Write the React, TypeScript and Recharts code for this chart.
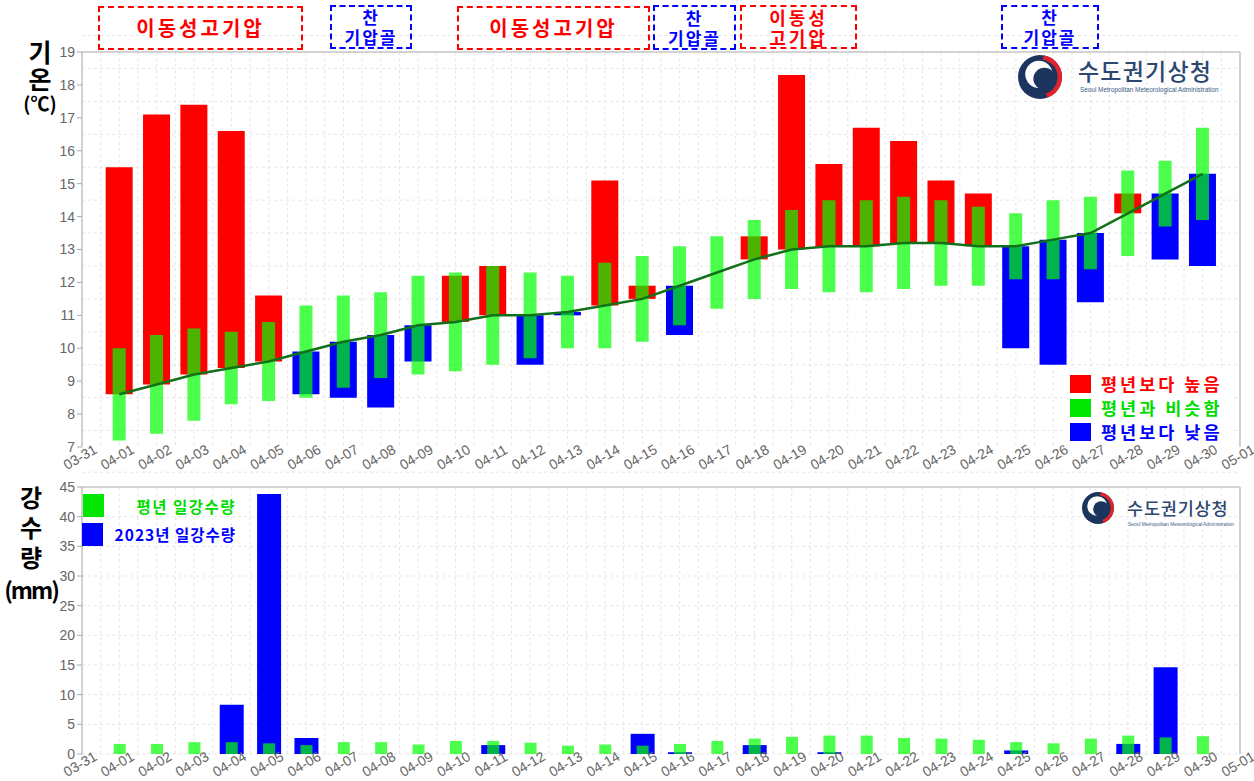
import React from 'react';
import { ComposedChart, Bar, Line, XAxis, YAxis, CartesianGrid, Cell, ReferenceLine } from 'recharts';

// x축 눈금 (0 = 03-31, 31 = 05-01)
const DAY_LABELS = [
  '03-31', '04-01', '04-02', '04-03', '04-04', '04-05', '04-06', '04-07', '04-08', '04-09', '04-10',
  '04-11', '04-12', '04-13', '04-14', '04-15', '04-16', '04-17', '04-18', '04-19', '04-20',
  '04-21', '04-22', '04-23', '04-24', '04-25', '04-26', '04-27', '04-28', '04-29', '04-30', '05-01',
];
const DAYS = [1, 2, 3, 4, 5, 6, 7, 8, 9, 10, 11, 12, 13, 14, 15, 16, 17, 18, 19, 20, 21, 22, 23, 24, 25, 26, 27, 28, 29, 30];

// 기온 (℃)
const NORMAL_MEAN = [8.6, 8.9, 9.2, 9.4, 9.6, 9.9, 10.2, 10.4, 10.7, 10.8, 11.0, 11.0, 11.1, 11.3, 11.5, 11.9, 12.3, 12.7, 13.0, 13.1, 13.1, 13.2, 13.2, 13.1, 13.1, 13.3, 13.5, 14.1, 14.7, 15.3];
const TEMP_2023 = [15.5, 17.1, 17.4, 16.6, 11.6, 8.6, 8.5, 8.2, 9.6, 12.2, 12.5, 9.5, 11.0, 15.1, 11.9, 10.4, 12.3, 13.4, 18.3, 15.6, 16.7, 16.3, 15.1, 14.7, 10.0, 9.5, 11.4, 14.7, 12.7, 12.5];
const NORMAL_LOW = [7.2, 7.4, 7.8, 8.3, 8.4, 8.5, 8.8, 9.1, 9.2, 9.3, 9.5, 9.7, 10.0, 10.0, 10.2, 10.7, 11.2, 11.5, 11.8, 11.7, 11.7, 11.8, 11.9, 11.9, 12.1, 12.1, 12.4, 12.8, 13.7, 13.9];
const NORMAL_HIGH = [10.0, 10.4, 10.6, 10.5, 10.8, 11.3, 11.6, 11.7, 12.2, 12.3, 12.5, 12.3, 12.2, 12.6, 12.8, 13.1, 13.4, 13.9, 14.2, 14.5, 14.5, 14.6, 14.5, 14.3, 14.1, 14.5, 14.6, 15.4, 15.7, 16.7];

// 강수량 (mm)
const RAIN_NORMAL = [1.7, 1.7, 2.0, 2.0, 1.8, 1.5, 2.0, 2.0, 1.6, 2.2, 2.2, 1.9, 1.4, 1.6, 1.4, 1.7, 2.2, 2.6, 2.9, 3.1, 3.1, 2.7, 2.6, 2.4, 2.0, 1.8, 2.6, 3.1, 2.8, 3.0];
const RAIN_2023 = [0, 0, 0, 8.3, 43.8, 2.7, 0, 0, 0, 0, 1.5, 0, 0, 0, 3.4, 0.3, 0, 1.5, 0, 0.3, 0, 0, 0, 0, 0.6, 0, 0, 1.7, 14.6, 0];

const TEMP_TICKS = [7, 8, 9, 10, 11, 12, 13, 14, 15, 16, 17, 18, 19];
const RAIN_TICKS = [0, 5, 10, 15, 20, 25, 30, 35, 40, 45];

const RED = '#ff0000';
const BLUE = '#0000ff';
const LIME = '#00ff00';
const KR = '"Noto Sans CJK KR", "Noto Sans", sans-serif';
const TICK_FONT = '"Liberation Sans", Arial, sans-serif';

const TOP_H = 475;
const BOTTOM_H = 311;
const X_AXIS_H = 28;

const tempData = DAYS.map((day, i) => {
  const n = NORMAL_MEAN[i];
  const t = TEMP_2023[i];
  return {
    day,
    diff: t === n ? null : [Math.min(n, t), Math.max(n, t)],
    warm: t > n,
    band: [NORMAL_LOW[i], NORMAL_HIGH[i]],
    normal: n,
  };
});

const rainData = DAYS.map((day, i) => ({ day, normal: RAIN_NORMAL[i], actual: RAIN_2023[i] }));

const tickIdx = DAY_LABELS.map((_, i) => i);
const halfDays = DAY_LABELS.flatMap((_, i) => [i, i + 0.5]);

// 회전된 날짜 눈금: axisY 는 x축 선의 위치
const makeDayTick = (axisY: number) => (p: any) => (
  <g key={p.index} transform={`translate(${p.x - 2},${axisY + 10}) rotate(-30)`}>
    <text textAnchor="middle" dy="0.35em" fill="#666" fontSize={14} fontFamily={TICK_FONT}>
      {DAY_LABELS[p.payload.value]}
    </text>
  </g>
);

const NoteBox = ({ left, top, width, height, color, lines, fs, ls = 2, lh }: any) => (
  <div
    style={{
      position: 'absolute', left, top, width, height, boxSizing: 'border-box',
      border: `2px dashed ${color}`, color, fontFamily: KR, fontWeight: 700,
      fontSize: fs, lineHeight: `${lh}px`, letterSpacing: ls,
      display: 'flex', flexDirection: 'column', alignItems: 'center', justifyContent: 'center',
    }}
  >
    {lines.map((l: string) => <div key={l}>{l}</div>)}
  </div>
);

const Emblem = ({ cx, cy, r }: any) => {
  const a0 = (-80 * Math.PI) / 180;
  const a1 = (70 * Math.PI) / 180;
  const rr = r * 0.9;
  return (
    <g>
      <circle cx={cx} cy={cy} r={r} fill="#1c355e" />
      <circle cx={cx - r * 0.05} cy={cy - r * 0.12} r={r * 0.62} fill="#fff" />
      <circle cx={cx + r * 0.2} cy={cy + r * 0.08} r={r * 0.5} fill="#1c355e" />
      <path
        d={`M ${cx + rr * Math.cos(a0)} ${cy + rr * Math.sin(a0)} A ${rr} ${rr} 0 0 1 ${cx + rr * Math.cos(a1)} ${cy + rr * Math.sin(a1)}`}
        stroke="#e2232b" strokeWidth={r * 0.2} fill="none"
      />
    </g>
  );
};

const Logos = () => (
  <svg width={1254} height={781} style={{ position: 'absolute', left: 0, top: 0, pointerEvents: 'none' }}>
    <Emblem cx={1040} cy={77} r={22} />
    <text x={1078} y={80} fontSize={23} fill="#2d4870" fontFamily={KR} fontWeight={500} letterSpacing={1.2}>수도권기상청</text>
    <text x={1080} y={92} fontSize={6.4} fill="#3d5e85" fontFamily={TICK_FONT}>Seoul Metropolitan Meteorological Administration</text>
    <Emblem cx={1098} cy={508} r={16} />
    <text x={1127} y={515} fontSize={17.5} fill="#2d4870" fontFamily={KR} fontWeight={500} letterSpacing={0.8}>수도권기상청</text>
    <text x={1128} y={526} fontSize={4.9} fill="#3d5e85" fontFamily={TICK_FONT}>Seoul Metropolitan Meteorological Administration</text>
  </svg>
);

const LegendRow = ({ left, top, color, text, textColor }: any) => (
  <div style={{ position: 'absolute', left, top, display: 'flex', alignItems: 'center' }}>
    <div style={{ width: 21, height: 18, background: color }} />
    <div style={{ marginLeft: 10, color: textColor, fontFamily: KR, fontWeight: 700, fontSize: 17.5, lineHeight: '20px', letterSpacing: 3, whiteSpace: 'nowrap' }}>{text}</div>
  </div>
);

const App: React.FC = () => {
  return (
    <div style={{ position: 'relative', width: 1254, height: 781, background: '#fff', overflow: 'hidden' }}>
      <style>{'body{margin:0}'}</style>

      {/* 기온 */}
      <div style={{ position: 'absolute', left: 0, top: 0 }}>
        <ComposedChart width={1254} height={TOP_H} data={tempData} margin={{ top: 52, right: 14, bottom: 0, left: 22 }}>
          <CartesianGrid xAxisId="main" stroke="#e6e6e6" strokeDasharray="3 3"
            horizontalValues={TEMP_TICKS.flatMap(v => [v, v + 0.5])} verticalValues={halfDays} />
          <XAxis xAxisId="main" type="number" dataKey="day" domain={[0, 31]} ticks={tickIdx} interval={0}
            height={X_AXIS_H} tick={makeDayTick(TOP_H - X_AXIS_H)} tickSize={4} stroke="#aaa" />
          <XAxis xAxisId="g" type="number" dataKey="day" domain={[0, 31]} hide />
          <YAxis domain={[7, 19]} ticks={TEMP_TICKS} width={60} tickSize={5} tickMargin={2} stroke="#aaa"
            tick={{ fill: '#666', fontSize: 14, fontFamily: TICK_FONT }} />
          <ReferenceLine xAxisId="main" y={19} stroke="#c4c4c4" strokeWidth={1.5} />
          <ReferenceLine xAxisId="main" x={31} stroke="#c4c4c4" strokeWidth={1.5} />
          <Bar xAxisId="main" dataKey="diff" barSize={27} isAnimationActive={false}>
            {tempData.map((r, i) => <Cell key={i} fill={r.warm ? RED : BLUE} />)}
          </Bar>
          <Bar xAxisId="g" dataKey="band" barSize={13} fill={LIME} fillOpacity={0.7} isAnimationActive={false} />
          <Line xAxisId="main" dataKey="normal" stroke="#13701a" strokeWidth={2.5} dot={false} isAnimationActive={false} />
        </ComposedChart>
      </div>

      {/* 강수량 */}
      <div style={{ position: 'absolute', left: 0, top: 470 }}>
        <ComposedChart width={1254} height={BOTTOM_H} data={rainData} margin={{ top: 17, right: 14, bottom: 0, left: 22 }}>
          <CartesianGrid xAxisId="main" stroke="#e6e6e6" strokeDasharray="3 3"
            horizontalValues={RAIN_TICKS.flatMap(v => [v, v + 2.5])} verticalValues={halfDays} />
          <XAxis xAxisId="main" type="number" dataKey="day" domain={[0, 31]} ticks={tickIdx} interval={0}
            height={X_AXIS_H - 1} tick={makeDayTick(BOTTOM_H - X_AXIS_H + 1)} tickSize={4} stroke="#aaa" />
          <XAxis xAxisId="g" type="number" dataKey="day" domain={[0, 31]} hide />
          <YAxis domain={[0, 45]} ticks={RAIN_TICKS} width={60} tickSize={5} tickMargin={2} stroke="#aaa"
            tick={{ fill: '#666', fontSize: 14, fontFamily: TICK_FONT }} />
          <ReferenceLine xAxisId="main" y={45} stroke="#c4c4c4" strokeWidth={1.5} />
          <ReferenceLine xAxisId="main" x={31} stroke="#c4c4c4" strokeWidth={1.5} />
          <Bar xAxisId="main" dataKey="actual" barSize={24} fill={BLUE} isAnimationActive={false} />
          <Bar xAxisId="g" dataKey="normal" barSize={12} fill={LIME} fillOpacity={0.7} isAnimationActive={false} />
        </ComposedChart>
      </div>

      {/* 기압계 주석 */}
      <NoteBox left={98} top={6} width={205} height={44} color={RED} lines={['이동성고기압']} fs={20} ls={3} lh={22} />
      <NoteBox left={330} top={5} width={82} height={44} color={BLUE} lines={['찬', '기압골']} fs={17} lh={20} />
      <NoteBox left={457} top={6} width={193} height={44} color={RED} lines={['이동성고기압']} fs={20} ls={3} lh={22} />
      <NoteBox left={653} top={5} width={83} height={45} color={BLUE} lines={['찬', '기압골']} fs={17} lh={20} />
      <NoteBox left={740} top={5} width={117} height={44} color={RED} lines={['이동성', '고기압']} fs={18} ls={3} lh={20} />
      <NoteBox left={1001} top={5} width={98} height={44} color={BLUE} lines={['찬', '기압골']} fs={17} lh={20} />

      {/* y축 제목 */}
      <div style={{ position: 'absolute', left: 18, top: 38, width: 44, textAlign: 'center', fontFamily: KR, fontWeight: 700, color: '#000' }}>
        <div style={{ fontSize: 25, lineHeight: '27px' }}>기</div>
        <div style={{ fontSize: 25, lineHeight: '27px' }}>온</div>
        <div style={{ fontSize: 19, lineHeight: '22px' }}>(℃)</div>
      </div>
      <div style={{ position: 'absolute', left: 0, top: 482, width: 62, textAlign: 'center', fontFamily: KR, fontWeight: 700, color: '#000' }}>
        <div style={{ fontSize: 24, lineHeight: '30px' }}>강</div>
        <div style={{ fontSize: 24, lineHeight: '30px' }}>수</div>
        <div style={{ fontSize: 24, lineHeight: '30px' }}>량</div>
        <div style={{ fontSize: 23, lineHeight: '34px', letterSpacing: -2 }}>(mm)</div>
      </div>

      {/* 범례 */}
      <div style={{ position: 'absolute', left: 1064, top: 369, width: 170, height: 76, background: '#fff' }} />
      <LegendRow left={1070} top={374} color={RED} text="평년보다 높음" textColor={RED} />
      <LegendRow left={1070} top={398} color="#00e600" text="평년과 비슷함" textColor="#00dd00" />
      <LegendRow left={1070} top={422} color={BLUE} text="평년보다 낮음" textColor={BLUE} />

      <div style={{ position: 'absolute', left: 83, top: 494, width: 21, height: 23, background: '#00e600' }} />
      <div style={{ position: 'absolute', left: 82, top: 523, width: 21, height: 23, background: BLUE }} />
      <div style={{ position: 'absolute', left: 100, top: 494, width: 136, textAlign: 'right', color: '#00dd00', fontFamily: KR, fontWeight: 700, fontSize: 15.5, letterSpacing: 1.5, lineHeight: '24px', whiteSpace: 'nowrap' }}>평년 일강수량</div>
      <div style={{ position: 'absolute', left: 96, top: 522, width: 140, textAlign: 'right', color: BLUE, fontFamily: KR, fontWeight: 700, fontSize: 15.5, letterSpacing: 1, lineHeight: '24px', whiteSpace: 'nowrap' }}>2023년 일강수량</div>

      <Logos />
    </div>
  );
};

export default App;
